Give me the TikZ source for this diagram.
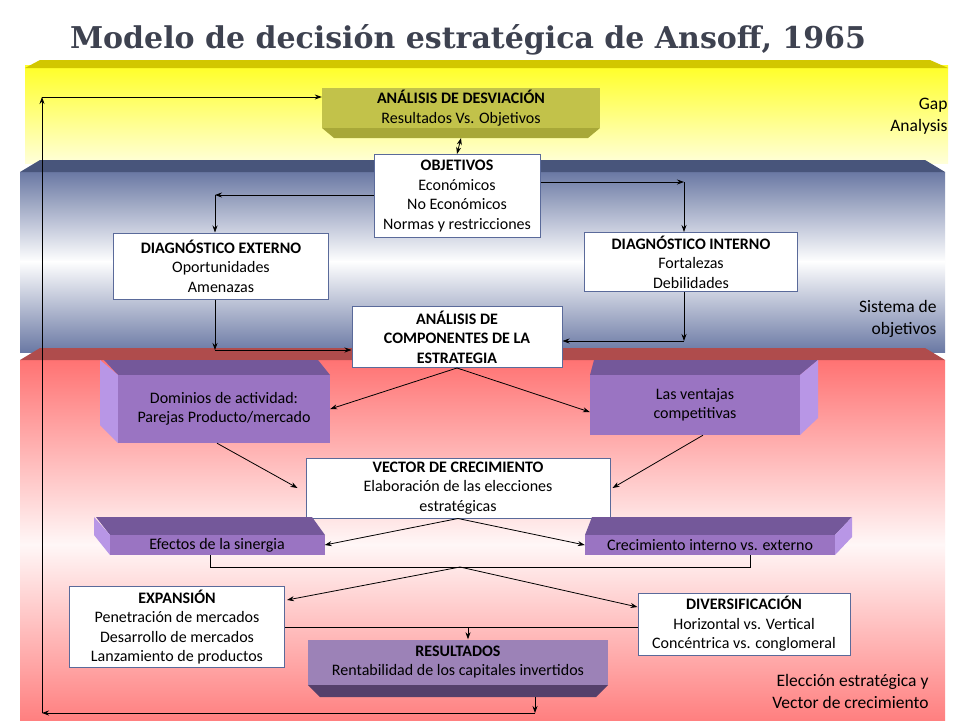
\documentclass[tikz,border=0pt]{standalone}
\usepackage{fontspec}
\setmainfont{Carlito}
\newfontfamily\titlefont{DejaVu Serif}
\usetikzlibrary{arrows.meta}
\definecolor{bord}{HTML}{5A6A9A}
\definecolor{purf}{HTML}{9A74C2}
\definecolor{purt}{HTML}{74589A}
\definecolor{purs}{HTML}{B896E6}
\definecolor{olv}{HTML}{C2C24A}
\definecolor{olvd}{HTML}{A8A838}
\definecolor{ttl}{HTML}{3E4250}
\tikzset{
  wbox/.style={draw=bord,fill=white,line width=1pt,align=center,inner sep=0pt,font=\fontsize{16}{19.5}\selectfont},
  pbox/.style={fill=purf,align=center,inner sep=0pt,font=\fontsize{16}{19.5}\selectfont},
  conn/.style={-{Stealth[length=7pt,width=5pt]},line width=0.8pt},
  plain/.style={line width=0.8pt},
  side/.style={align=right,font=\fontsize{17.5}{22}\selectfont,anchor=east}
}
\newcommand{\hd}[1]{{\bfseries #1}}
\begin{document}
\begin{tikzpicture}[x=1pt,y=-1pt]
\useasboundingbox (0,0) rectangle (960,720);
\fill[white] (0,0) rectangle (960,720);
% bands
\shade[top color=yellow!85!white,bottom color=yellow!15!white] (25,65) rectangle (948,163);
\fill[yellow!60!olive] (25,68) -- (40,60) -- (930,60) -- (948,68) -- cycle;
\shade[top color=bord!90,bottom color=white] (20,172) rectangle (945,262);
\shade[top color=white,bottom color=bord!90] (20,261) rectangle (945,352);
\fill[bord!80!black] (20,172) -- (40,160) -- (925,160) -- (945,172) -- cycle;
\shade[top color=red!55!white,bottom color=red!3!white] (20,360) rectangle (945,545);
\shade[top color=red!3!white,bottom color=red!50!white] (20,544) rectangle (945,720);
\fill[red!55!black!70!white] (20,360) -- (40,348) -- (925,348) -- (945,360) -- cycle;
% title
\node[text=ttl,font=\titlefont\bfseries\fontsize{30}{32}\selectfont] (title) at (468,40) {Modelo de decisión estratégica de Ansoff, 1965};
% side labels
\node[side] (gap) at (951,116) {Gap\\Analysis};
\node[side] (sis) at (940,319) {Sistema de\\objetivos};
\node[side] (ele) at (932,691) {Elección estratégica y\\Vector de crecimiento};
% desviacion
\fill[olvd] (322,128) -- (600,128) -- (588,138) -- (334,138) -- cycle;
\node[fill=olv,minimum width=278pt,minimum height=40pt,align=center,inner sep=0pt,font=\fontsize{16}{19.5}\selectfont] (desv) at (461,108) {\hd{ANÁLISIS DE DESVIACIÓN}\\Resultados Vs. Objetivos};
\node[wbox,minimum width=166pt,minimum height=83pt] (obj) at (457,196) {\hd{OBJETIVOS}\\Económicos\\No Económicos\\Normas y restricciones};
\node[wbox,minimum width=215pt,minimum height=66pt] (dext) at (221,266) {\hd{DIAGNÓSTICO EXTERNO}\\Oportunidades\\Amenazas};
\node[wbox,minimum width=213pt,minimum height=59pt] (dint) at (691,262) {\hd{DIAGNÓSTICO INTERNO}\\Fortalezas\\Debilidades};
\node[wbox,minimum width=210pt,minimum height=61pt,font=\fontsize{16}{19.5}\selectfont\bfseries] (comp) at (457,337) {ANÁLISIS DE\\COMPONENTES DE LA\\ESTRATEGIA};
% purple 3D boxes
\fill[purt] (118,375) -- (330,375) -- (318,360) -- (104,360) -- cycle;
\fill[purs] (100,360) -- (118,375) -- (118,443) -- (100,425) -- cycle;
\node[pbox,minimum width=212pt,minimum height=68pt] (dom) at (224,409) {Dominios de actividad:\\Parejas Producto/mercado};
\fill[purt] (590,375) -- (800,375) -- (818,360) -- (594,360) -- cycle;
\fill[purs] (800,375) -- (818,360) -- (818,418) -- (800,435) -- cycle;
\node[pbox,minimum width=210pt,minimum height=60pt] (ven) at (695,405) {Las ventajas\\competitivas};
\node[wbox,minimum width=304pt,minimum height=60pt] (vec) at (458,488) {\hd{VECTOR DE CRECIMIENTO}\\Elaboración de las elecciones\\estratégicas};
\fill[purt] (110,535) -- (325,535) -- (312,517) -- (96,517) -- cycle;
\fill[purs] (94,517) -- (110,535) -- (110,555) -- (94,535) -- cycle;
\node[pbox,minimum width=215pt,minimum height=20pt] (efe) at (217,545) {Efectos de la sinergia};
\fill[purt] (585,535) -- (835,535) -- (852,517) -- (592,517) -- cycle;
\fill[purs] (835,535) -- (852,517) -- (852,537) -- (835,555) -- cycle;
\node[pbox,minimum width=250pt,minimum height=20pt] (cre) at (710,545) {Crecimiento interno vs. externo};
\node[wbox,minimum width=215pt,minimum height=81pt] (exp) at (177,627) {\hd{EXPANSIÓN}\\Penetración de mercados\\Desarrollo de mercados\\Lanzamiento de productos};
\node[wbox,minimum width=212pt,minimum height=62pt] (div) at (744,624) {\hd{DIVERSIFICACIÓN}\\Horizontal vs. Vertical\\Concéntrica vs. conglomeral};
\fill[black!45!purf] (308,685) -- (608,685) -- (596,697) -- (320,697) -- cycle;
\node[fill=black!15!purf!80!white,minimum width=300pt,minimum height=45pt,align=center,inner sep=0pt,font=\fontsize{16}{19.5}\selectfont] (res) at (458,662) {\hd{RESULTADOS}\\Rentabilidad de los capitales invertidos};
% connectors
\coordinate (fb1) at (535,713);
\coordinate (fb2) at (42,713);
\coordinate (fb3) at (42,97);
\draw[conn] (535,697) -- (fb1);
\draw[conn] (fb1) -- (fb2);
\draw[conn] (fb2) -- (fb3);
\draw[conn] (fb3) -- (desv.west |- fb3);
\draw[conn,{Stealth[length=7pt,width=5pt]}-{Stealth[length=7pt,width=5pt]}] (desv.south |- 0,138) -- (obj.north);
\coordinate (oL) at (215,195);
\coordinate (oR) at (684,182);
\draw[conn] (obj.west |- oL) -- (oL);
\draw[conn] (oL) -- (dext.north -| oL);
\draw[conn] (obj.east |- oR) -- (oR);
\draw[conn] (oR) -- (dint.north -| oR);
\coordinate (eL) at (215,350);
\coordinate (iR) at (684,341);
\draw[conn] (dext.south -| eL) -- (eL);
\draw[conn] (eL) -- (comp.west |- eL);
\draw[conn] (dint.south -| iR) -- (iR);
\draw[conn] (iR) -- (comp.east |- iR);
\draw[conn] (comp.south) -- (dom.east);
\draw[conn] (comp.south) -- ([yshift=-7pt]ven.west);
\draw[conn] ([xshift=-7pt]dom.south) -- ([xshift=-8pt]vec.west);
\draw[conn] ([xshift=8pt]ven.south) -- ([xshift=2pt]vec.east);
\draw[conn] (vec.south) -- (efe.east);
\draw[conn] (vec.south) -- (cre.west);
\coordinate (b1) at (210,567);
\coordinate (b2) at (750,567);
\coordinate (bm) at (460,567);
\draw[plain] (efe.south -| b1) -- (b1) -- (b2) -- (cre.south -| b2);
\draw[conn] (bm) -- ([yshift=27pt,xshift=2pt]exp.east);
\draw[conn] (bm) -- ([yshift=17pt]div.west);
\coordinate (rm) at (468,627);
\draw[plain] (exp.east |- rm) -- (div.west |- rm);
\draw[conn] (rm) -- (res.north -| rm);
\end{tikzpicture}
\end{document}
